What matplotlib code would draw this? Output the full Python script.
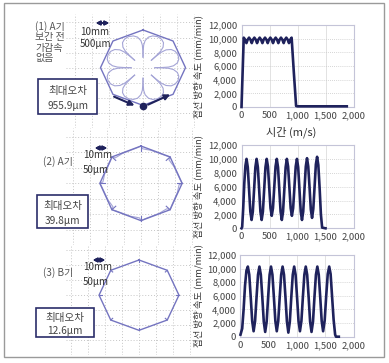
import numpy as np
import matplotlib.pyplot as plt
from matplotlib.patches import Rectangle

plt.rcParams['font.family'] = ['Noto Sans CJK KR', 'DejaVu Sans']

W, H = 389, 363
NAVY = '#1f225c'
OCT = '#7474c0'
LIGHT = '#a4a4d6'

# ── speed data (time ms, tangential speed mm/min) ─────────────
t1 = [0, 40,
      65, 88, 110, 135, 160, 183, 205, 230, 255, 278, 300, 325,
      350, 373, 395, 420, 445, 468, 490, 515, 540, 563, 585, 610,
      635, 658, 680, 705, 730, 753, 775, 800, 825, 848, 870, 895,
      935, 975, 1000, 1880]
v1 = [0, 10150,
      9850, 9350, 9850, 10150, 9850, 9350, 9850, 10150, 9850, 9350, 9850, 10150,
      9850, 9350, 9850, 10150, 9850, 9350, 9850, 10150, 9850, 9350, 9850, 10150,
      9850, 9350, 9850, 10150, 9850, 9350, 9850, 10150, 9850, 9350, 9850, 10150,
      5000, 150, 100, 100]

t2 = [0, 12, 30, 50, 70, 90,
      112, 135, 158, 180, 202, 225, 248, 270,
      292, 315, 338, 360, 382, 405, 428, 450,
      472, 495, 518, 540, 562, 585, 608, 630,
      652, 675, 698, 720, 742, 765, 788, 810,
      832, 855, 878, 900, 922, 945, 968, 990,
      1012, 1035, 1058, 1080, 1102, 1125, 1148, 1170,
      1192, 1215, 1238, 1260, 1282, 1305, 1328, 1350,
      1372, 1395, 1418, 1440, 1500]
v2 = [0, 200, 2800, 6500, 9000, 10000,
      8800, 5600, 2400, 1200, 2400, 5600, 8800, 10000,
      8800, 5600, 2400, 1200, 2400, 5600, 8800, 10000,
      8900, 5900, 2900, 1800, 2900, 5900, 8900, 10000,
      8800, 5600, 2400, 1200, 2400, 5600, 8800, 10000,
      8900, 5900, 2900, 1800, 2900, 5900, 8900, 10000,
      8800, 5600, 2400, 1200, 2400, 5700, 8900, 10100,
      8900, 5900, 2700, 1500, 2800, 6000, 9200, 10300,
      9100, 5800, 2000, 100, 0]

t3 = [0, 30, 55, 80, 105, 130,
      155, 181, 207, 232, 258, 284, 310, 335,
      360, 386, 412, 437, 463, 489, 515, 540,
      565, 591, 617, 642, 668, 694, 720, 745,
      770, 796, 822, 847, 873, 899, 925, 950,
      975, 1001, 1027, 1052, 1078, 1104, 1130, 1155,
      1180, 1206, 1232, 1257, 1283, 1309, 1335, 1360,
      1385, 1411, 1437, 1462, 1490, 1517, 1544, 1570,
      1595, 1620, 1648, 1675, 1690, 1740]
v3 = [300, 1200, 4000, 7500, 9700, 10300,
      9100, 5800, 2300, 800, 2300, 5800, 9100, 10300,
      9100, 5800, 2200, 700, 2200, 5800, 9100, 10300,
      9100, 5800, 2300, 800, 2300, 5800, 9100, 10300,
      9100, 5800, 2200, 600, 2200, 5800, 9100, 10300,
      9100, 5800, 2300, 800, 2300, 5800, 9100, 10300,
      9100, 5800, 2200, 700, 2200, 5800, 9100, 10300,
      9100, 5800, 2300, 800, 2400, 6000, 9200, 10300,
      9200, 6000, 2500, 300, 0, 0]

x_ticks = [0, 500, 1000, 1500, 2000]
x_labels = ['0', '500', '1,000', '1,500', '2,000']
y_ticks = [0, 2000, 4000, 6000, 8000, 10000, 12000]
y_labels = ['0', '2,000', '4,000', '6,000', '8,000', '10,000', '12,000']

# ── contour data (mm, drawing scale) ─────────────────────────
oct_ang = [90, 45, 0, -45, -90, -135, -180, -225, -270]
oct_r = [25.0, 24.2, 23.5]
# one petal of the (1) error trace, angle offset from a corner (deg) / radius (mm)
petal_ang = [0, 0.5, 1.5, 4, 9, 15, 22.5, 30, 36, 41, 43.5, 44.5, 45]
petal_r = [7, 11, 15, 18, 20.5, 21.8, 22.3, 21.8, 20.5, 18, 15, 11, 7]
# (2) secondary trace: fraction along each edge / outward offset (mm)
wob_frac = [0.0, 0.08, 0.2, 0.35, 0.85, 1.0]
wob_off = [0.0, 1.3, 0.9, 0.3, 0.2, 0.0]
spike_len = [0, 3.2, 1.6]

panel_titles = ['(1) A기\n보간 전\n가감속\n없음', '(2) A기', '(3) B기']
scale_labels = [('10mm', '500µm'), ('10mm', '50µm'), ('10mm', '50µm')]
max_err = ['955.9µm', '39.8µm', '12.6µm']


def fx(px):
    return px / W


def fy(py):
    return 1 - py / H


fig = plt.figure(figsize=(W / 100, H / 100), dpi=100)

# outer frame
fig.add_artist(Rectangle((fx(4), fy(357)), (384 - 4) / W, (357 - 3) / H,
                         transform=fig.transFigure, fill=False,
                         edgecolor='#9a9a9a', lw=1.0))

# ── left: contour panels ─────────────────────────────────────
PXMM = 1.7
left_boxes = [(14, 128, 143, 74.5), (128, 245, 141, 189), (245, 355, 139, 302)]
for i, (top, bot, cx, cy) in enumerate(left_boxes):
    ax = fig.add_axes([fx(66), fy(bot), 130 / W, (bot - top) / H])
    ax.set_xlim((66 - cx) / PXMM, (196 - cx) / PXMM)
    ax.set_ylim(-(bot - cy) / PXMM, (cy - top) / PXMM)
    ax.set_xticks(np.arange(-40, 40, 10))
    ax.set_yticks(np.arange(-40, 40, 10))
    ax.grid(True, ls=(0, (1, 2)), color='#c6c6c6', lw=0.7)
    ax.tick_params(length=0, labelbottom=False, labelleft=False)
    for s in ax.spines.values():
        s.set_visible(False)
    ax.patch.set_alpha(0)

    R = oct_r[i]
    a = np.radians(oct_ang)
    ox, oy = R * np.cos(a), R * np.sin(a)

    if i == 1:
        # lighter actual-path trace wobbling just outside the edges
        wx, wy = [], []
        for k in range(8):
            ex, ey = ox[k + 1] - ox[k], oy[k + 1] - oy[k]
            L = np.hypot(ex, ey)
            nx, ny = ey / L, -ex / L
            for f, d in zip(wob_frac, wob_off):
                wx.append(ox[k] + f * ex + d * nx)
                wy.append(oy[k] + f * ey + d * ny)
        ax.plot(wx, wy, color=LIGHT, lw=0.8)

    ax.plot(ox, oy, color=OCT, lw=1.0)

    if i == 0:
        for k in range(8):
            pa = np.radians(oct_ang[k] - np.array(petal_ang))
            ax.plot(np.array(petal_r) * np.cos(pa), np.array(petal_r) * np.sin(pa),
                    color=LIGHT, lw=0.8)
        ax.annotate('', xy=(-3.5, -25.8), xytext=(-18.5, -18.5),
                    arrowprops=dict(arrowstyle='-|>', color=NAVY, lw=1.5,
                                    mutation_scale=8), annotation_clip=False)
        ax.annotate('', xy=(17.5, -17.0), xytext=(1.5, -25.3),
                    arrowprops=dict(arrowstyle='-|>', color=NAVY, lw=1.5,
                                    mutation_scale=8), annotation_clip=False)
        ax.plot([0], [-25.3], 'o', ms=4.5, color=NAVY, clip_on=False)
    else:
        for k in range(8):
            ax.plot([ox[k], ox[k] * (1 - spike_len[i] / R)],
                    [oy[k], oy[k] * (1 - spike_len[i] / R)], color=OCT, lw=0.8)

# left labels, scale bars, max-error boxes
title_pos = [(35, 21, 'top'), (43, 162, 'center'), (43, 273, 'center')]
scale_pos = [(80, 32, 44, 93, 112, 23), (83, 155, 170, 92, 110, 148),
             (83, 267, 282, 90, 108, 260)]
box_pos = [(38, 79, 97, 114), (37, 195, 88, 228), (36, 308, 94, 337)]
for i in range(3):
    tx, ty, va = title_pos[i]
    fig.text(fx(tx), fy(ty), panel_titles[i], ha='left', va=va, fontsize=7.2,
             color='#555555', linespacing=1.05)
    sx, sy1, sy2, ax0, ax1_, ay = scale_pos[i]
    fig.text(fx(sx), fy(sy1), scale_labels[i][0], ha='left', va='center',
             fontsize=7, color='#333333')
    fig.text(fx(sx), fy(sy2), scale_labels[i][1], ha='left', va='center',
             fontsize=7, color='#333333')
    fig.add_artist(plt.annotate('', xy=(fx(ax1_), fy(ay)), xytext=(fx(ax0), fy(ay)),
                                xycoords='figure fraction', textcoords='figure fraction',
                                arrowprops=dict(arrowstyle='<|-|>', color=NAVY,
                                                lw=1.2, mutation_scale=6)))
    x0, y0, x1, y1 = box_pos[i]
    fig.add_artist(Rectangle((fx(x0), fy(y1)), (x1 - x0) / W, (y1 - y0) / H,
                             transform=fig.transFigure, fill=True, facecolor='white',
                             edgecolor='#2b2d6a', lw=1.2))
    mx = (x0 + x1) / 2
    fig.text(fx(mx), fy(y0 + (y1 - y0) * 0.33), '최대오차', ha='center', va='center',
             fontsize=7.6, color='#444444')
    fig.text(fx(mx), fy(y0 + (y1 - y0) * 0.78), max_err[i], ha='center', va='center',
             fontsize=7.3, color='#444444')

# ── right: tangential speed charts ───────────────────────────
chart_rects = [(241.5, 25, 107), (241.5, 145, 228.3), (240.5, 255, 336.7)]
series = [(t1, v1), (t2, v2), (t3, v3)]
for (lx, top, bot), (t, v) in zip(chart_rects, series):
    ax = fig.add_axes([fx(lx), fy(bot), (353.5 - lx) / W, (bot - top) / H])
    ax.plot(t, v, color=NAVY, lw=1.9, clip_on=False, zorder=3)
    ax.set_xlim(0, 2000)
    ax.set_ylim(0, 12000)
    ax.set_xticks(x_ticks)
    ax.set_xticklabels(x_labels)
    ax.set_yticks(y_ticks)
    ax.set_yticklabels(y_labels)
    ax.tick_params(length=0, labelsize=6.8, pad=3, colors='#444444')
    ax.grid(True, axis='y', ls=(0, (1, 1.5)), color='#c8c8c8', lw=0.6)
    ax.grid(True, axis='x', ls='-', color='#dddddd', lw=0.6)
    for s in ax.spines.values():
        s.set_color('#c4c4d8')
        s.set_linewidth(0.8)
    fig.text(fx(198), fy((top + bot) / 2), '접선 방향 속도 (mm/min)', rotation=90,
             ha='center', va='center', fontsize=6.8, color='#333333')

fig.text(fx(291), fy(132), '시간 (m/s)', ha='center', va='center', fontsize=8,
         color='#333333')

fig.savefig('out.png', dpi=100)
